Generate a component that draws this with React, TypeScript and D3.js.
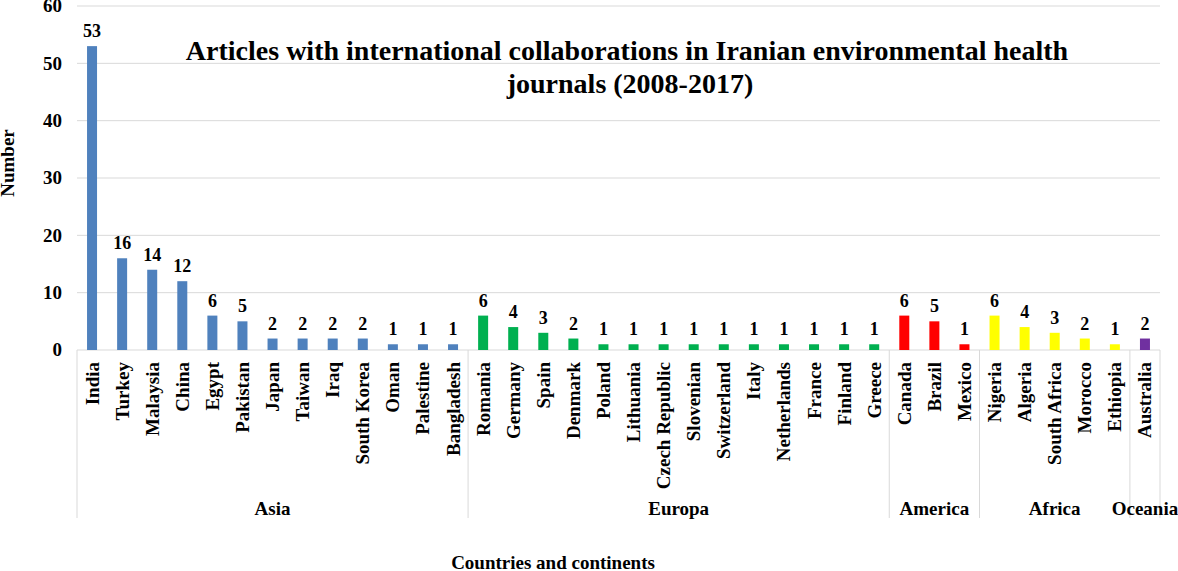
import React from "react";
import * as d3 from "d3";

const countries = ["India","Turkey","Malaysia","China","Egypt","Pakistan","Japan","Taiwan","Iraq","South Korea","Oman","Palestine","Bangladesh","Romania","Germany","Spain","Denmark","Poland","Lithuania","Czech Republic","Slovenian","Switzerland","Italy","Netherlands","France","Finland","Greece","Canada","Brazil","Mexico","Nigeria","Algeria","South Africa","Morocco","Ethiopia","Australia"];
const values = [53,16,14,12,6,5,2,2,2,2,1,1,1,6,4,3,2,1,1,1,1,1,1,1,1,1,1,6,5,1,6,4,3,2,1,2];
const continents = ["Asia","Europa","America","Africa","Oceania"];
const continentCounts = [13,14,3,5,1];
const continentColors = ["#4F81BD","#00B050","#FF0000","#FFFF00","#7030A0"];
const yTicks = [0,10,20,30,40,50,60];

const W = 1178, H = 571;
const left = 77, right = 1160, top = 6, bottom = 350, groupBottom = 518;
const font = "Liberation Serif, Times New Roman, serif";

export default function App() {
  const x = d3.scaleBand<string>().domain(countries).range([left, right]).paddingInner(0).paddingOuter(0);
  const y = d3.scaleLinear().domain([0, 60]).range([bottom, top]);
  const bw = 10;
  const contIdx: number[] = [];
  continentCounts.forEach((c, i) => { for (let k = 0; k < c; k++) contIdx.push(i); });
  const bounds: number[] = [0];
  continentCounts.forEach(c => bounds.push(bounds[bounds.length - 1] + c));
  const bx = (i: number) => left + i * x.step();
  return (
    <svg width={W} height={H} style={{ position: "absolute", left: 0, top: 0, background: "#fff", fontFamily: font }}>
      <rect width={W} height={H} fill="#fff" />
      {yTicks.map(t => (
        <g key={t}>
          <line x1={left} x2={right} y1={y(t)} y2={y(t)} stroke="#d9d9d9" strokeWidth={1} />
          <text x={62} y={y(t)} dy="0.33em" textAnchor="end" fontSize={19} fontWeight="bold">{t}</text>
        </g>
      ))}
      {bounds.map((b, i) => (
        <line key={i} x1={bx(b)} x2={bx(b)} y1={bottom} y2={groupBottom} stroke="#d9d9d9" strokeWidth={1} />
      ))}
      {countries.map((c, i) => {
        const cx = (x(c) as number) + x.bandwidth() / 2;
        return (
          <g key={c}>
            <rect x={cx - bw / 2} y={y(values[i])} width={bw} height={bottom - y(values[i])} fill={continentColors[contIdx[i]]} />
            <text x={cx} y={y(values[i]) - 9} textAnchor="middle" fontSize={18} fontWeight="bold">{values[i]}</text>
            <text transform={`translate(${cx + 6.5},${362}) rotate(-90)`} textAnchor="end" fontSize={19} fontWeight="bold">{c}</text>
          </g>
        );
      })}
      {continents.map((c, i) => (
        <text key={c} x={(bx(bounds[i]) + bx(bounds[i + 1])) / 2} y={515} textAnchor="middle" fontSize={19} fontWeight="bold">{c}</text>
      ))}
      <text x={627} y={60} textAnchor="middle" fontSize={28} fontWeight="bold">Articles with international collaborations in Iranian environmental health</text>
      <text x={630} y={93} textAnchor="middle" fontSize={28} fontWeight="bold">journals (2008-2017)</text>
      <text transform={`translate(14,163) rotate(-90)`} textAnchor="middle" fontSize={19} fontWeight="bold">Number</text>
      <text x={553} y={569} textAnchor="middle" fontSize={19} fontWeight="bold">Countries and continents</text>
    </svg>
  );
}
